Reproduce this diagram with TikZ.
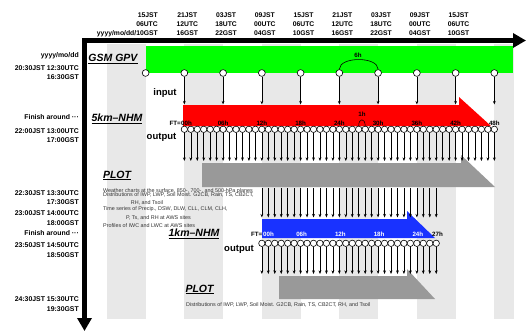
\documentclass[tikz,border=0pt]{standalone}
\usepackage{fontspec}
\setmainfont{Liberation Sans}
\usetikzlibrary{arrows.meta}
\definecolor{bandgray}{RGB}{232,232,232}
\definecolor{gsmgreen}{RGB}{0,255,0}
\definecolor{nhmred}{RGB}{255,0,0}
\definecolor{nhmblue}{RGB}{25,50,255}
\definecolor{plotgray}{RGB}{153,153,153}
\begin{document}
\begin{tikzpicture}[x=1pt,y=-1pt,
  hdr/.style={font=\fontsize{6.8}{7}\selectfont\bfseries, inner sep=0pt},
  lbl/.style={font=\fontsize{6.9}{7}\selectfont\bfseries, anchor=east, inner sep=0pt},
  ttl/.style={font=\fontsize{10.5}{11}\selectfont\bfseries\itshape, inner sep=0pt},
  io/.style={font=\fontsize{9.5}{10}\selectfont\bfseries, inner sep=0pt},
  ft/.style={font=\fontsize{6.2}{7}\selectfont\bfseries, inner sep=0pt},
  note/.style={font=\fontsize{5.4}{6}\selectfont, text=black!80, inner sep=0pt},
  dot/.style={circle, draw=black, fill=white, line width=0.6pt, minimum size=6.4pt, inner sep=0pt},
  bigdot/.style={dot, minimum size=6.8pt},
  feed/.style={line width=0.6pt, -{Stealth[length=3.6pt,width=2.8pt]}},
  axis/.style={line width=5pt, -{Triangle[length=13pt,width=14pt]}},
]
\useasboundingbox (0,0) rectangle (528,332);
\fill[white] (0,0) rectangle (528,332);

% background bands
\foreach \a/\b in {106.9/145.6, 184.35/223.1, 261.85/300.6, 339.35/378.1, 416.85/455.6, 494.35/514}
  \fill[bandgray] (\a,44) rectangle (\b,319);

% GSM band
\fill[gsmgreen] (146,46) rectangle (513,73);

% model / plot arrows
\fill[nhmred] (183,105) -- (459,105) -- (459,97) -- (491,126) -- (183,126) -- cycle;
\fill[plotgray] (202,163) -- (461,163) -- (461,155) -- (495,187) -- (202,187) -- cycle;
\fill[nhmblue] (262,219) -- (407,219) -- (407,211) -- (435,238) -- (262,238) -- cycle;
\fill[plotgray] (279,276) -- (407,276) -- (407,269) -- (435,299) -- (279,299) -- cycle;

% axes
\draw[axis] (84.5,38) -- (84.5,331);
\draw[axis] (82,40.5) -- (526,40.5);

% header labels
\node[hdr, anchor=east] at (158,15.5) {15JST};
\node[hdr, anchor=east] at (158,24.5) {06UTC};
\node[hdr, anchor=east] at (158,33.5) {yyyy/mo/dd/10GST};
\foreach \k/\j/\u/\g in {1/21/12/16, 2/03/18/22, 3/09/00/04, 4/15/06/10, 5/21/12/16, 6/03/18/22, 7/09/00/04, 8/15/06/10} {
  \node[hdr] at ({145.6+38.75*\k+3},15.5) {\j JST};
  \node[hdr] at ({145.6+38.75*\k+3},24.5) {\u UTC};
  \node[hdr] at ({145.6+38.75*\k+3},33.5) {\g GST};
}

% left time labels
\node[lbl] at (79,56) {yyyy/mo/dd};
\node[lbl] at (79,68.5) {20:30JST 12:30UTC};
\node[lbl] at (79,77.5) {16:30GST};
\node[lbl] at (79,117.5) {Finish around ···};
\node[lbl] at (79,131) {22:00JST 13:00UTC};
\node[lbl] at (79,140.5) {17:00GST};
\node[lbl] at (79,193) {22:30JST 13:30UTC};
\node[lbl] at (79,202.5) {17:30GST};
\node[lbl] at (79,213) {23:00JST 14:00UTC};
\node[lbl] at (79,223) {18:00GST};
\node[lbl] at (79,233) {Finish around ···};
\node[lbl] at (79,245.5) {23:50JST 14:50UTC};
\node[lbl] at (79,255.5) {18:50GST};
\node[lbl] at (79,299.5) {24:30JST 15:30UTC};
\node[lbl] at (79,309) {19:30GST};

% titles
\node[ttl] (gsm) at (113,59) {\underline{GSM GPV}};
\node[ttl] (nhm5) at (117,119) {\underline{5km–NHM}};
\node[ttl] (plot1) at (117,175.5) {\underline{PLOT}};
\node[ttl] (nhm1) at (194,233.5) {\underline{1km–NHM}};
\node[ttl] (plot2) at (199.5,289.5) {\underline{PLOT}};
\node[io] (in1) at (165,93) {input};
\node[io] (out1) at (161.5,137) {output};
\node[io] (out2) at (239,249.5) {output};

% notes
\node[note, anchor=west] (n1) at (103,191) {Weather charts at the surface, 850-, 700-, and 500-hPa planes};
\node[note, anchor=west] (n2) at (103,195) {Distributions of IWP, LWP, Soil Moist. G2CB, Rain, TS, CB2CT,};
\node[note] (n3) at (147,202.5) {RH, and Tsoil};
\node[note, anchor=west] (n4) at (103,209.5) {Time series of Precip., DSW, DLW, CLL, CLM, CLH,};
\node[note] (n5) at (158.5,218) {P, Ts, and RH at AWS sites};
\node[note, anchor=west] (n6) at (103,226) {Profiles of IWC and LWC at AWS sites};
\node[note, anchor=west] (n7) at (186,305) {Distributions of IWP, LWP, Soil Moist. G2CB, Rain, TS, CB2CT, RH, and Tsoil};

% GSM circles and input arrows
\foreach \k in {0,...,9}
  \node[bigdot] (g\k) at ({145.6+38.75*\k},73) {};
\foreach \k in {1,...,9} {
  \coordinate (gi\k) at ({145.6+38.75*\k},104.5);
  \draw[feed] (g\k) -- (gi\k);
}
\draw[line width=0.6pt] (g5.north) .. controls +(0,-13) and +(0,-13) .. (g6.north);
\node[ft] (lab6h) at (358,55) {6h};

% 5km output
\foreach \i in {0,...,48} {
  \node[dot] (r\i) at ({184.35+6.4583*\i},129.3) {};
  \coordinate (ro\i) at ({184.35+6.4583*\i},161);
  \draw[feed] (r\i) -- (ro\i);
}
\draw[line width=0.5pt] (r27.north) .. controls +(0,-8) and +(0,-8) .. (r28.north);
\node[ft] (lab1h) at (362,114) {1h};
\node[ft, anchor=east] (ft5) at (181,123) {FT=};
\node[ft] (f5a) at (186.5,123) {00h};
\foreach \i/\t in {6/06h,12/12h,18/18h,24/24h,30/30h,36/36h,42/42h,48/48h}
  \node[ft] at ({184.35+6.4583*\i},123) {\t};

% 1km input and output
\foreach \i in {0,...,27} {
  \coordinate (bi\i) at ({261.85+6.4583*\i},188);
  \coordinate (bt\i) at ({261.85+6.4583*\i},217.5);
  \draw[feed] (bi\i) -- (bt\i);
  \node[dot] (b\i) at ({261.85+6.4583*\i},243.3) {};
  \coordinate (bo\i) at ({261.85+6.4583*\i},274);
  \draw[feed] (b\i) -- (bo\i);
}
\node[ft, anchor=east] (ft1) at (262.5,234) {FT=};
\node[ft, text=white] (f1a) at (268.5,234) {00h};
\foreach \i/\t in {6/06h,12/12h,18/18h,24/24h}
  \node[ft, text=white] at ({261.85+6.4583*\i+1},234) {\t};
\node[ft] (f1z) at (437.5,234) {27h};
\end{tikzpicture}
\end{document}
